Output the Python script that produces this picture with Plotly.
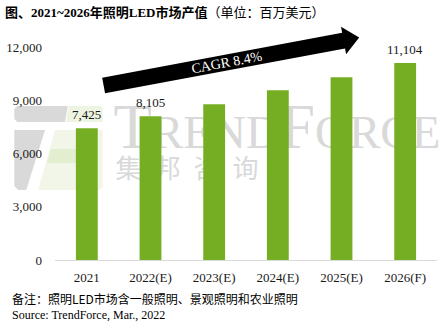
import math
import plotly.graph_objects as go

# Lighting LED market value, USD million
years = ["2021", "2022(E)", "2023(E)", "2024(E)", "2025(E)", "2026(F)"]
values = [7425, 8105, 8780, 9560, 10300, 11104]
show_value = [True, True, False, False, False, True]
y_ticks = [0, 3000, 6000, 9000, 12000]
cagr_text = "CAGR 8.4%"

W, H = 443, 328
L, R, T, B = 52, 6, 47, 68
PW, PH = W - L - R, H - T - B

SERIF = "Liberation Serif, Times New Roman, Noto Sans CJK SC, serif"
SANS = "Noto Sans CJK SC, sans-serif"
GREEN = "#76ae23"
MARK = "#d9d9d9"


def px(x):
    """pixel x -> paper x"""
    return (x - L) / PW


def py(y):
    """pixel y (from top) -> paper y"""
    return (H - B - y) / PH


def path(points):
    return "M " + " L ".join(f"{px(a):.5f},{py(b):.5f}" for a, b in points) + " Z"


fig = go.Figure()

# watermark text lives on the first subplot, the bars on the second one drawn above it
fig.add_trace(go.Scatter(
    x=[px(111)], y=[py(136)], mode="text", xaxis="x", yaxis="y",
    text=["<span style='font-size:63px'>T</span><span style='font-size:47px'>REND</span>"
          "<span style='font-size:63px'>F</span><span style='font-size:47px'>ORCE</span>"],
    textposition="middle right", textfont=dict(family=SERIF, color=MARK, size=47),
    cliponaxis=False, hoverinfo="skip", showlegend=False,
))
fig.add_trace(go.Scatter(
    x=[px(113)], y=[py(171)], mode="text", xaxis="x", yaxis="y",
    text=["集\u2002邦\u2002咨\u2002询"],
    textposition="middle right", textfont=dict(family=SANS, color=MARK, size=26),
    cliponaxis=False, hoverinfo="skip", showlegend=False,
))

fig.add_trace(go.Bar(
    x=years, y=values, xaxis="x2", yaxis="y2",
    marker=dict(color=GREEN, line=dict(width=0)),
    hoverinfo="skip", showlegend=False,
))

shapes = []
# logo behind the plot
shapes.append(dict(type="path", xref="paper", yref="paper", layer="below",
                   path=path([(14, 106), (65, 106), (62, 122), (14, 122), (11, 119), (11, 109)]),
                   fillcolor=MARK, line=dict(width=0)))
shapes.append(dict(type="path", xref="paper", yref="paper", layer="below",
                   path=path([(66, 106), (98, 106), (100, 108), (100, 122), (63, 122)]),
                   fillcolor="#eef4e2", line=dict(width=0)))
shapes.append(dict(type="path", xref="paper", yref="paper", layer="below",
                   path=path([(11, 130), (42, 130), (23, 190), (15, 190), (11, 186)]),
                   fillcolor=MARK, line=dict(width=0)))
shapes.append(dict(type="path", xref="paper", yref="paper", layer="below",
                   path=path([(52, 130), (100, 130), (100, 187), (97, 190), (35, 190)]),
                   fillcolor="#f1f6e8", line=dict(width=0)))
shapes.append(dict(type="path", xref="paper", yref="paper", layer="below",
                   path=path([(48, 149), (92, 149), (89, 163), (44, 163)]),
                   fillcolor="#e3edd0", line=dict(width=0)))

# growth arrow
tail = (101.0, 85.5)
ang = math.atan(0.186)
d = (math.cos(ang), -math.sin(ang))
n = (math.sin(ang), math.cos(ang))
shaft_w, shaft_len, head_w, head_len = 8.0, 246.0, 14.0, 16.0


def pt(s, t):
    return (tail[0] + s * d[0] + t * n[0], tail[1] + s * d[1] + t * n[1])


arrow = [pt(0, -shaft_w), pt(shaft_len, -shaft_w), pt(shaft_len, -head_w),
         pt(shaft_len + head_len, 0), pt(shaft_len, head_w), pt(shaft_len, shaft_w),
         pt(0, shaft_w)]
shapes.append(dict(type="path", xref="paper", yref="paper", layer="above",
                   path=path(arrow), fillcolor="black", line=dict(width=0)))

annotations = []
cx, cy = pt(126, 0)
annotations.append(dict(x=px(cx), y=py(cy), xref="paper", yref="paper",
                        text=cagr_text, showarrow=False, textangle=-math.degrees(ang),
                        font=dict(family=SERIF, size=14, color="white"),
                        xanchor="center", yanchor="middle"))

for i, (v, show) in enumerate(zip(values, show_value)):
    if show:
        annotations.append(dict(x=i, y=v, xref="x2", yref="y2", text=f"{v:,}",
                                showarrow=False, yanchor="bottom", yshift=4,
                                font=dict(family=SERIF, size=13, color="#1a1a1a")))

annotations.append(dict(x=px(7), y=py(298), xref="paper", yref="paper",
                        text="备注：照明LED市场含一般照明、景观照明和农业照明",
                        showarrow=False, xanchor="left", yanchor="middle",
                        font=dict(family=SANS, size=12, color="black")))
annotations.append(dict(x=px(7), y=py(315), xref="paper", yref="paper",
                        text="Source: TrendForce, Mar., 2022",
                        showarrow=False, xanchor="left", yanchor="middle",
                        font=dict(family=SERIF, size=12, color="black")))

fig.update_layout(
    width=W, height=H,
    margin=dict(l=L, r=R, t=T, b=B),
    paper_bgcolor="white", plot_bgcolor="rgba(0,0,0,0)",
    title=dict(text="<b>图、2021~2026年照明LED市场产值</b>（单位：百万美元）",
               xref="container", yref="container", x=5 / W, y=1 - 12 / H,
               xanchor="left", yanchor="middle",
               font=dict(family=SERIF, size=13, color="black")),
    bargap=0.657,
    xaxis=dict(range=[0, 1], visible=False, fixedrange=True, domain=[0, 1]),
    yaxis=dict(range=[0, 1], visible=False, fixedrange=True, domain=[0, 1]),
    xaxis2=dict(anchor="y2", domain=[0, 1], type="category",
                categoryorder="array", categoryarray=years, range=[-0.5, 5.5],
                showgrid=False, showline=True, linecolor=MARK, linewidth=1, ticks="",
                ticklabelstandoff=5,
                tickfont=dict(family=SERIF, size=13, color="#1a1a1a")),
    yaxis2=dict(anchor="x2", domain=[0, 1], side="left", range=[0, 12000],
                tickvals=y_ticks, tickformat=",d", showgrid=False, zeroline=False,
                showline=False, ticks="", ticklabelstandoff=12,
                tickfont=dict(family=SERIF, size=13, color="#1a1a1a")),
    shapes=shapes,
    annotations=annotations,
)

fig.write_html("out.html")
